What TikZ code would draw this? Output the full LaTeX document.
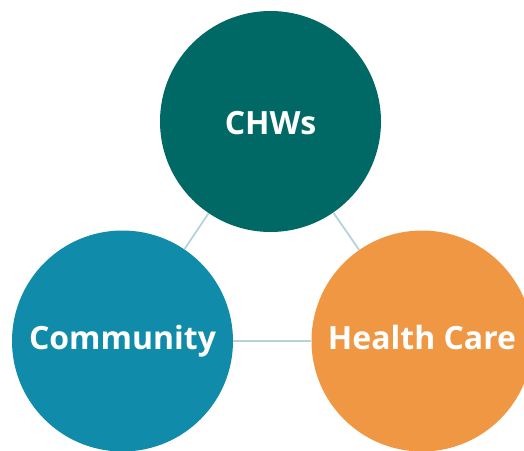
\documentclass[tikz,border=0pt]{standalone}
\usepackage{fontspec}
\setmainfont{Open Sans}
\definecolor{chwcol}{HTML}{006965}
\definecolor{comcol}{HTML}{108BA9}
\definecolor{hccol}{HTML}{EF9743}
\definecolor{linkcol}{HTML}{B4D5D8}
\begin{document}
\begin{tikzpicture}[x=1pt,y=-1pt,
  bubble/.style={circle, minimum size=221pt, inner sep=0pt, text=white,
    text height=23pt, text depth=6.4pt,
    font=\fontsize{32}{36}\selectfont\bfseries},
  link/.style={draw=linkcol, line width=1.8pt}]
\useasboundingbox (0,0) rectangle (524,450);
\clip (0,0) rectangle (524,450);
\node[bubble, fill=chwcol, text height=32pt] (chw) at (270.5,121.5) {CHWs};
\node[bubble, fill=comcol] (com) at (122.5,341) {Community};
\node[bubble, fill=hccol] (hc) at (422,341) {Health Care};
\draw[link] (chw) -- (com);
\draw[link] (chw) -- (hc);
\draw[link] (com) -- (hc);
\end{tikzpicture}
\end{document}
